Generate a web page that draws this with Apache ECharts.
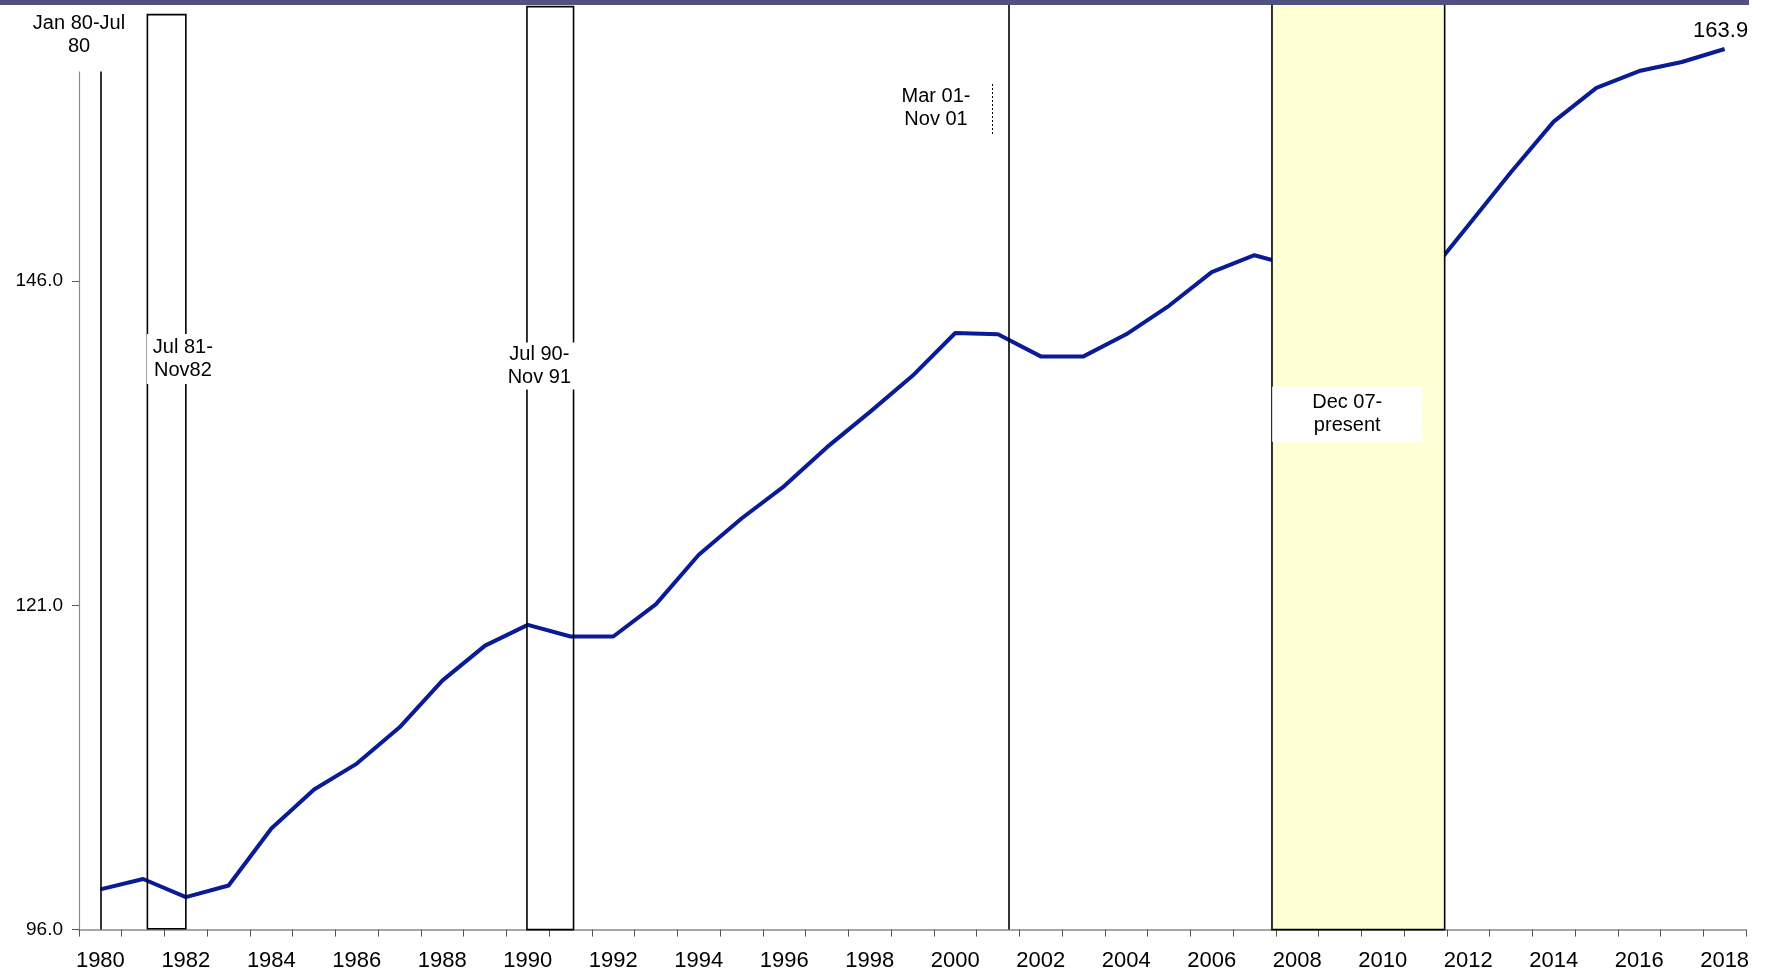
<!DOCTYPE html>
<html><head><meta charset="utf-8">
<script src="https://cdn.jsdelivr.net/npm/echarts@6/dist/echarts.min.js"></script>
<style>html,body{margin:0;padding:0;background:#fff}#c{width:1771px;height:973px}</style>
</head><body><div id="c"></div>
<script>
// ---- data ----
const years = ['1980','1981','1982','1983','1984','1985','1986','1987','1988','1989',
  '1990','1991','1992','1993','1994','1995','1996','1997','1998','1999',
  '2000','2001','2002','2003','2004','2005','2006','2007','2008','2009',
  '2010','2011','2012','2013','2014','2015','2016','2017','2018'];
const values = [99.1, 99.9, 98.5, 99.4, 103.8, 106.8, 108.8, 111.6, 115.2, 117.9,
  119.5, 118.6, 118.6, 121.1, 124.9, 127.7, 130.2, 133.2, 135.9, 138.7,
  142.0, 141.9, 140.2, 140.2, 141.9, 144.1, 146.7, 148.0, 147.1, 142.5,
  142.8, 146.2, 150.3, 154.4, 158.3, 160.9, 162.2, 162.9, 163.9];
const yTicks = [96, 121, 146];
const yMin = 96, yMax = 167.68;
const lastLabel = '163.9';

// recession annotations, x in fractional years, y in index units
const jan80Line = 1980.0;
const mar01Line = 2001.25;
const mar01Dotted = [2000.87, 161.2, 157.2];
const boxJul81 = [1981.1, 96.07, 1982.0, 166.55];
const boxJul90 = [1989.98, 95.76, 1991.07, 167.17];
const boxDec07 = [2007.41, 95.76, 2011.45, 167.68];
const recessionText = ['Jan 80-Jul\n80', 'Jul 81-\nNov82', 'Jul 90-\nNov 91', 'Mar 01-\nNov 01', 'Dec 07-\npresent'];
const recessionAnchor = [[1979.5, 164.95], [1981.93, 140.0], [1990.27, 139.45], [1999.55, 159.36], [2009.17, 135.74]];
const recessionPad = [[25, 3, 1, 3], [2, 6, 2, 6], [1, 6, 0, 6], [0, 0, 0, 0], [1, 40, 8, 40]];
const recessionBg = ['#ffffff', '#ffffff', '#ffffff', 'transparent', '#ffffff'];

const FONT = 'Liberation Sans, Arial, sans-serif';
const chart = echarts.init(document.getElementById('c'), null, {renderer: 'canvas'});

const boxStyle = {color: 'rgba(0,0,0,0)', borderColor: '#000', borderWidth: 1.6};
const area = (b, style) => [{coord: [b[0], b[1]], itemStyle: style}, {coord: [b[2], b[3]]}];

chart.setOption({
  animation: false,
  backgroundColor: '#ffffff',
  grid: {left: 79, right: 25, top: 0, bottom: 43.4, containLabel: false},
  xAxis: [{
    type: 'category', data: years, boundaryGap: true,
    axisLine: {show: true, lineStyle: {color: '#8a8a8a', width: 1.5}},
    axisTick: {show: true, interval: 0, length: 7, lineStyle: {color: '#555', width: 1}},
    axisLabel: {interval: 1, margin: 20, color: '#000', fontSize: 22, fontFamily: FONT},
    splitLine: {show: false}
  }, {
    type: 'value', min: 1979.5, max: 2018.5, show: false, splitLine: {show: false}
  }],
  yAxis: [{
    type: 'value', min: yMin, max: yMax,
    axisLine: {show: true, lineStyle: {color: '#8a8a8a', width: 1.2}},
    axisTick: {show: true, length: 7, customValues: yTicks, lineStyle: {color: '#555'}},
    axisLabel: {customValues: yTicks, margin: 16, color: '#000', fontSize: 19, fontFamily: FONT,
      formatter: v => v.toFixed(1)},
    splitLine: {show: false}
  }],
  graphic: [{
    type: 'rect', left: 0, top: 0, z: 100,
    shape: {width: 1749, height: 5}, style: {fill: '#4f5180'}
  }],
  series: [{
    type: 'line', xAxisIndex: 0, yAxisIndex: 0, z: 1,
    data: values,
    symbol: 'none', showSymbol: false,
    lineStyle: {color: '#0a1b96', width: 4, join: 'round'},
    itemStyle: {color: '#0a1b96'},
    markPoint: {
      z: 10, silent: true,
      data: [{
        coord: [years[years.length - 1], values[values.length - 1]],
        symbol: 'circle', symbolSize: 1, itemStyle: {color: 'rgba(0,0,0,0)'},
        label: {show: true, position: 'top', distance: 7, offset: [-4, 0],
          formatter: lastLabel, color: '#000', fontSize: 22, fontFamily: FONT}
      }]
    }
  }, {
    type: 'line', xAxisIndex: 1, yAxisIndex: 0, z: 3, clip: false,
    data: [],
    markArea: {
      z: 3, silent: true,
      data: [
        area(boxJul81, boxStyle),
        area(boxJul90, boxStyle),
        area(boxDec07, {color: '#ffffd5', borderColor: '#000', borderWidth: 1.6})
      ]
    },
    markLine: {
      z: 4, silent: true, symbol: ['none', 'none'], label: {show: false},
      data: [
        {xAxis: jan80Line, lineStyle: {color: '#000', width: 1.6, type: 'solid'}},
        {xAxis: mar01Line, lineStyle: {color: '#000', width: 1.6, type: 'solid'}},
        [{coord: [mar01Dotted[0], mar01Dotted[1]], lineStyle: {color: '#000', width: 1, type: [2, 2]}},
         {coord: [mar01Dotted[0], mar01Dotted[2]]}]
      ]
    },
    markPoint: {
      z: 10, silent: true,
      data: recessionText.map((t, i) => ({
        coord: recessionAnchor[i], symbol: 'circle', symbolSize: 1,
        itemStyle: {color: 'rgba(0,0,0,0)'},
        label: {show: true, position: 'inside', formatter: t, color: '#000',
          fontSize: 20, lineHeight: 23, fontFamily: FONT, align: 'center', verticalAlign: 'middle',
          backgroundColor: recessionBg[i], padding: recessionPad[i]}
      }))
    }
  }]
});
</script></body></html>
